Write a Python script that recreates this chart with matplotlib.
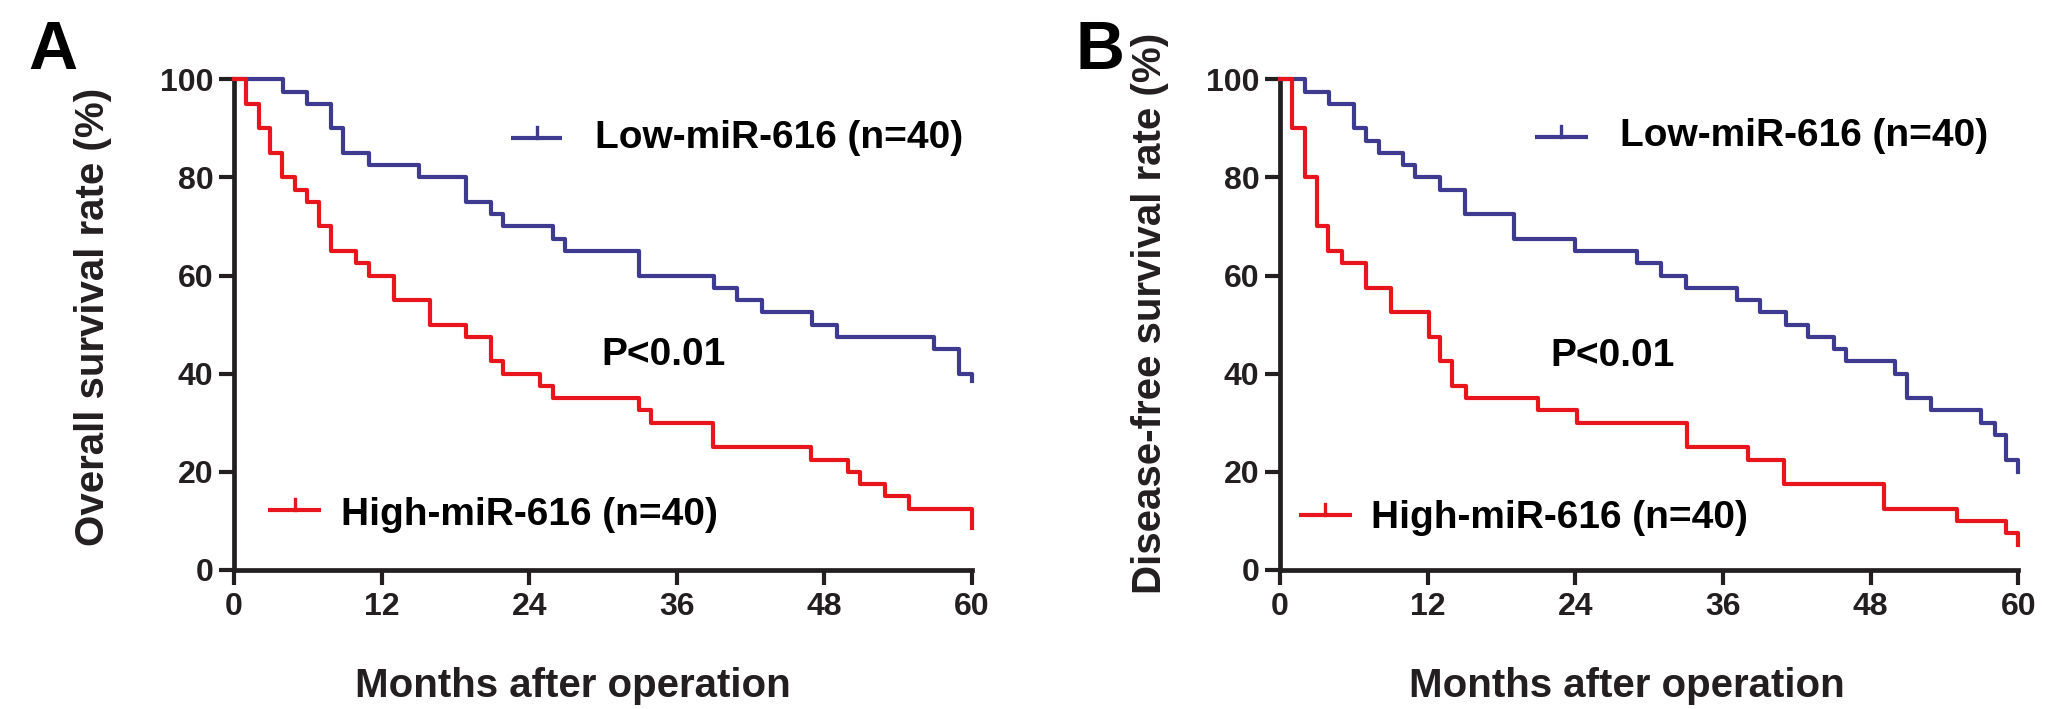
import matplotlib
matplotlib.use("Agg")
import matplotlib.pyplot as plt

plt.rcParams['font.family'] = ['Liberation Sans', 'DejaVu Sans']
plt.rcParams['font.weight'] = 'bold'

BLUE = '#3d3a8f'
RED = '#e8161c'
INK = '#231f20'

# Kaplan-Meier steps (months, survival %)
os_low_t = [0, 4.0, 5.9, 7.9, 8.9, 11.0, 15.0, 18.9, 20.9, 21.9, 25.9, 26.9, 32.9, 39.0, 40.9,
            42.9, 47.0, 49.0, 56.9, 58.9, 60]
os_low_s = [100, 97.5, 95, 90, 85, 82.5, 80, 75, 72.5, 70, 67.5, 65, 60, 57.5, 55,
            52.5, 50, 47.5, 45, 40, 38.5]
os_high_t = [0, 1.0, 2.0, 2.9, 3.9, 5.0, 5.9, 6.9, 7.9, 9.9, 11.0, 13.0, 15.9, 18.9, 20.9,
             21.9, 24.9, 25.9, 32.9, 33.9, 38.9, 46.9, 49.9, 50.9, 52.9, 54.9, 60]
os_high_s = [100, 95, 90, 85, 80, 77.5, 75, 70, 65, 62.5, 60, 55, 50, 47.5, 42.5,
             40, 37.5, 35, 32.5, 30, 25, 22.5, 20, 17.5, 15, 12.5, 8.5]

dfs_low_t = [0, 2.0, 4.0, 6.0, 7.0, 8.0, 10.0, 11.0, 13.0, 15.0, 19.0, 24.0, 29.0, 31.0, 33.0,
             37.1, 39.0, 41.1, 42.9, 45.0, 46.0, 50.0, 51.0, 52.9, 57.0, 58.1, 59.0, 60]
dfs_low_s = [100, 97.5, 95, 90, 87.5, 85, 82.5, 80, 77.5, 72.5, 67.5, 65, 62.5, 60, 57.5,
             55, 52.5, 50, 47.5, 45, 42.5, 40, 35, 32.5, 30, 27.5, 22.5, 20]
dfs_high_t = [0, 0.95, 2.0, 3.0, 3.9, 5.0, 7.0, 9.0, 12.1, 13.0, 14.0, 15.1, 21.0, 24.1, 33.1,
              38.0, 41.0, 49.1, 55.0, 59.0, 60]
dfs_high_s = [100, 90, 80, 70, 65, 62.5, 57.5, 52.5, 47.5, 42.5, 37.5, 35, 32.5, 30, 25,
              22.5, 17.5, 12.5, 10, 7.5, 5]

x_ticks = [0, 12, 24, 36, 48, 60]
y_ticks = [0, 20, 40, 60, 80, 100]
low_label = 'Low-miR-616 (n=40)'
high_label = 'High-miR-616 (n=40)'

fig = plt.figure(figsize=(20.67, 7.09), dpi=100)
axA = fig.add_axes([0.1132, 0.1961, 0.3571, 0.6921])
axB = fig.add_axes([0.6193, 0.1961, 0.3571, 0.6921])


def km_panel(ax, low_t, low_s, high_t, high_s, ylabel, ylab_x, ylab_y, xlab_x,
             leg_low, leg_high, p_pos):
    ax.step(low_t, low_s, where='post', color=BLUE, lw=3.0, clip_on=False, zorder=3)
    ax.step(high_t, high_s, where='post', color=RED, lw=3.0, clip_on=False, zorder=4)
    ax.set_xlim(0, 60)
    ax.set_ylim(0, 100)
    ax.set_xticks(x_ticks)
    ax.set_yticks(y_ticks)
    for s in ['top', 'right']:
        ax.spines[s].set_visible(False)
    for s in ['left', 'bottom']:
        ax.spines[s].set_linewidth(3.4)
        ax.spines[s].set_color(INK)
    ax.tick_params(axis='both', length=10.8, width=3.0, color=INK, labelcolor=INK,
                   labelsize=23)
    ax.tick_params(axis='x', pad=5)
    ax.tick_params(axis='y', pad=4)
    ax.set_ylabel(ylabel, fontsize=29, fontweight='bold', color=INK)
    ax.yaxis.set_label_coords(ylab_x, ylab_y)
    ax.set_xlabel('Months after operation', fontsize=29, fontweight='bold', color=INK)
    ax.xaxis.set_label_coords(xlab_x, -0.198)

    # hand-drawn legend entries with censor tick
    for (x0, x1, y, tx, ty), col, lab in [(leg_low, BLUE, low_label), (leg_high, RED, high_label)]:
        ax.plot([x0, x1], [y, y], color=col, lw=3.0, clip_on=False, solid_capstyle='butt')
        xm = (x0 + x1) / 2
        ax.plot([xm, xm], [y, y + 2.2], color=col, lw=2.4, clip_on=False)
        ax.text(tx, ty, lab, fontsize=28, fontweight='bold', color='black',
                ha='left', va='baseline', clip_on=False)

    ax.text(p_pos[0], p_pos[1], 'P<0.01', fontsize=28, fontweight='bold', color='black',
            ha='left', va='baseline')


km_panel(axA, os_low_t, os_low_s, os_high_t, os_high_s,
         'Overall survival rate (%)', -0.165, 0.515, 0.459,
         (22.5, 26.7, 88.1, 29.35, 86.0), (2.75, 7.1, 12.3, 8.7, 9.2), (29.9, 41.8))
km_panel(axB, dfs_low_t, dfs_low_s, dfs_high_t, dfs_high_s,
         'Disease-free survival rate (%)', -0.15, 0.523, 0.470,
         (20.7, 25.0, 88.2, 27.6, 86.3), (1.5, 5.85, 11.25, 7.43, 8.6), (22.0, 41.6))

fig.text(28 / 2067, 1 - 69 / 709, 'A', fontsize=49, fontweight='bold', color='black',
         ha='left', va='baseline')
fig.text(1075 / 2067, 1 - 69 / 709, 'B', fontsize=49, fontweight='bold', color='black',
         ha='left', va='baseline')

fig.savefig('out.png', dpi=100, facecolor='white')
